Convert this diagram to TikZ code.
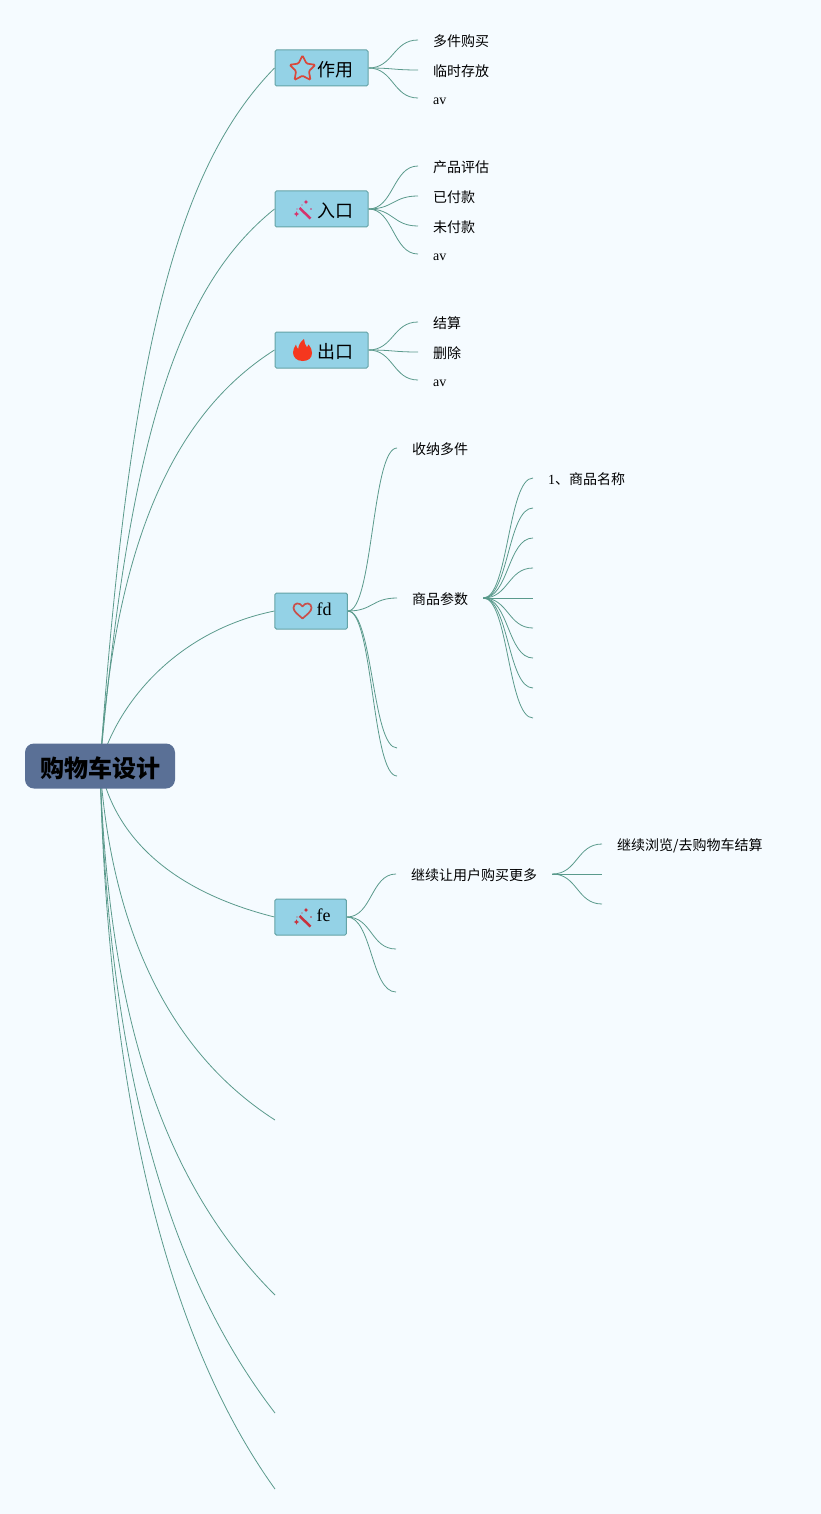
\documentclass[tikz,border=0pt]{standalone}
\usepackage{fontspec}
\setmainfont{Liberation Serif}
\newfontfamily\cjk{Noto Sans CJK SC}
\usetikzlibrary{shapes.geometric,backgrounds}
\definecolor{pagebg}{HTML}{F5FBFF}
\definecolor{boxfill}{HTML}{94D2E6}
\definecolor{boxline}{HTML}{64A3A6}
\definecolor{rootfill}{HTML}{5A7096}
\definecolor{linkcol}{HTML}{5A9A8C}
\definecolor{starcol}{HTML}{D9483B}
\definecolor{flamecol}{HTML}{F5371E}
\definecolor{heartcol}{HTML}{C8504B}
\definecolor{wandpink}{HTML}{D6336C}
\definecolor{wandred}{HTML}{C8323C}
\tikzset{
  x=1pt,y=-1pt,
  rootbox/.style={draw=none,fill=rootfill,rounded corners=9pt,minimum width=150pt,minimum height=45pt,inner sep=0pt,text height=22pt,text depth=0pt,font=\cjk\bfseries\fontsize{24}{28}\selectfont,text=black},
  topicbox/.style={draw=boxline,fill=boxfill,line width=1pt,rounded corners=1.5pt,minimum height=36pt,inner sep=0pt,text height=16.6pt,text depth=0pt,font=\fontsize{18}{22}\selectfont,text=black},
  latinbox/.style={topicbox,text height=8pt},
  leaf/.style={anchor=west,inner xsep=15pt,inner ysep=0pt,text height=13pt,text depth=0pt,font=\fontsize{14}{17}\selectfont,text=black},
  link/.style={draw=linkcol,line width=0.8pt},
  branch/.style={link,to path={.. controls +(25,0) and +(-25,0) .. (\tikztotarget)}}
}
\newcommand{\sparkle}[3]{\fill (#1-#3,#2) -- (#1-0.35*#3,#2-0.35*#3) -- (#1,#2-#3) -- (#1+0.35*#3,#2-0.35*#3) -- (#1+#3,#2) -- (#1+0.35*#3,#2+0.35*#3) -- (#1,#2+#3) -- (#1-0.35*#3,#2+0.35*#3) -- cycle;}
\newcommand{\wandicon}[3]{%
  \begin{scope}[shift={(#1,#2)},#3]
    \draw[line width=2.5pt] (299.5,208) -- (310.5,218.5);
    \sparkle{306}{202}{2.2}
    \sparkle{296.5}{214}{2.6}
    \fill (311,209) circle (0.9pt) (302,205) circle (0.6pt) (297,209) circle (0.6pt);
  \end{scope}}
\begin{document}
\begin{tikzpicture}
\useasboundingbox (0,0) rectangle (821,1514);

\node[rootbox] (root) at (100,766) {购物车设计};

\node[topicbox,minimum width=93pt] (zuoyong) at (321.5,68) {\hspace*{28pt}\cjk 作用};
\node[topicbox,minimum width=93pt] (rukou) at (321.5,209) {\hspace*{28pt}\cjk 入口};
\node[topicbox,minimum width=93pt] (chukou) at (321.5,350) {\hspace*{28pt}\cjk 出口};
\node[latinbox,minimum width=72.5pt] (fd) at (311.2,611) {\hspace*{26pt}fd};
\node[latinbox,minimum width=71.5pt] (fe) at (310.7,917) {\hspace*{26pt}fe};

% free ends of the main branches
\coordinate (r6) at (275,1120);
\coordinate (r7) at (275,1295);
\coordinate (r8) at (275,1413);
\coordinate (r9) at (275,1489);

% leaves
\node[leaf] (a1) at (418,40) {\cjk 多件购买};
\node[leaf] (a2) at (418,70) {\cjk 临时存放};
\node[leaf] (a3) at (418,98) {av};
\node[leaf] (b1) at (418,166) {\cjk 产品评估};
\node[leaf] (b2) at (418,196) {\cjk 已付款};
\node[leaf] (b3) at (418,226) {\cjk 未付款};
\node[leaf] (b4) at (418,254) {av};
\node[leaf] (c1) at (418,322) {\cjk 结算};
\node[leaf] (c2) at (418,352) {\cjk 删除};
\node[leaf] (c3) at (418,380) {av};
\node[leaf] (d1) at (397,448) {\cjk 收纳多件};
\node[leaf] (d2) at (397,598) {\cjk 商品参数};
\coordinate (d3) at (397,748);
\coordinate (d4) at (397,776);
\node[leaf] (p1) at (533,478) {1{\cjk 、商品名称}};
\coordinate (p2) at (533,508);
\coordinate (p3) at (533,538);
\coordinate (p4) at (533,568);
\coordinate (p5) at (533,598);
\coordinate (p6) at (533,628);
\coordinate (p7) at (533,658);
\coordinate (p8) at (533,688);
\coordinate (p9) at (533,718);
\node[leaf] (e1) at (396,874) {\cjk 继续让用户购买更多};
\coordinate (e2) at (396,949);
\coordinate (e3) at (396,992);
\node[leaf] (q1) at (602,844) {\cjk 继续浏览/去购物车结算};
\coordinate (q2) at (602,874);
\coordinate (q3) at (602,904);

% icons
\node[star,star points=5,star point ratio=2.0,minimum size=27pt,inner sep=0pt,draw=starcol,line width=1.7pt,rounded corners=1.2pt] (iconstar) at (302.5,69) {};
\wandicon{0}{0}{color=wandpink,fill=wandpink}
\wandicon{0}{708}{color=wandred,fill=wandred}
\fill[flamecol] (302.5,361) .. controls (296.5,361) and (293,357) .. (293,352.5)
  .. controls (293,349.5) and (294.5,347) .. (296,344.5)
  .. controls (296.5,346.5) and (297,348) .. (298.2,349)
  .. controls (298.5,345) and (300.5,341.5) .. (304,339)
  .. controls (304,342.5) and (305.5,345) .. (307,347.2)
  .. controls (307.8,346.5) and (308.3,345.5) .. (308.6,344.5)
  .. controls (310.8,347) and (312,350) .. (312,353)
  .. controls (312,358) and (308.5,361) .. (302.5,361) -- cycle;
\draw[heartcol,line width=1.7pt,line join=round] (302.5,618.5)
  .. controls (298,614.5) and (293.5,611.5) .. (293.5,607.8)
  .. controls (293.5,602.5) and (300,602) .. (302.5,606.5)
  .. controls (305,602) and (311.5,602.5) .. (311.5,607.8)
  .. controls (311.5,611.5) and (307,614.5) .. (302.5,618.5) -- cycle;

\begin{scope}[on background layer]
  \fill[pagebg] (0,0) rectangle (821,1514);
  % main branches, starting behind the root box
  \draw[link] (root.center) .. controls (130,340) and (180,165) .. (zuoyong.west);
  \draw[link] (root.center) .. controls (130,430) and (180,285) .. (rukou.west);
  \draw[link] (root.center) .. controls (116,530) and (180,410) .. (chukou.west);
  \draw[link] (root.center) .. controls (118,700) and (180,630) .. (fd.west);
  \draw[link] (root.center) .. controls (115,840) and (175,892) .. (fe.west);
  \draw[link] (root.center) .. controls (110,910) and (158,1045) .. (r6);
  \draw[link] (root.center) .. controls (108,1010) and (160,1180) .. (r7);
  \draw[link] (root.center) .. controls (108,1060) and (165,1270) .. (r8);
  \draw[link] (root.center) .. controls (108,1100) and (168,1340) .. (r9);
  % second level
  \foreach \t in {a1,a2,a3} \draw[branch] (zuoyong.east) to (\t.west);
  \foreach \t in {b1,b2,b3,b4} \draw[branch] (rukou.east) to (\t.west);
  \foreach \t in {c1,c2,c3} \draw[branch] (chukou.east) to (\t.west);
  \foreach \t in {d1,d2} \draw[branch] (fd.east) to (\t.west);
  \foreach \t in {d3,d4} \draw[branch] (fd.east) to (\t);
  \draw[branch] (fe.east) to (e1.west);
  \foreach \t in {e2,e3} \draw[branch] (fe.east) to (\t);
  % third level
  \draw[branch] (d2.east) to (p1.west);
  \foreach \t in {p2,p3,p4,p5,p6,p7,p8,p9} \draw[branch] (d2.east) to (\t);
  \draw[branch] (e1.east) to (q1.west);
  \foreach \t in {q2,q3} \draw[branch] (e1.east) to (\t);
\end{scope}
\end{tikzpicture}
\end{document}
